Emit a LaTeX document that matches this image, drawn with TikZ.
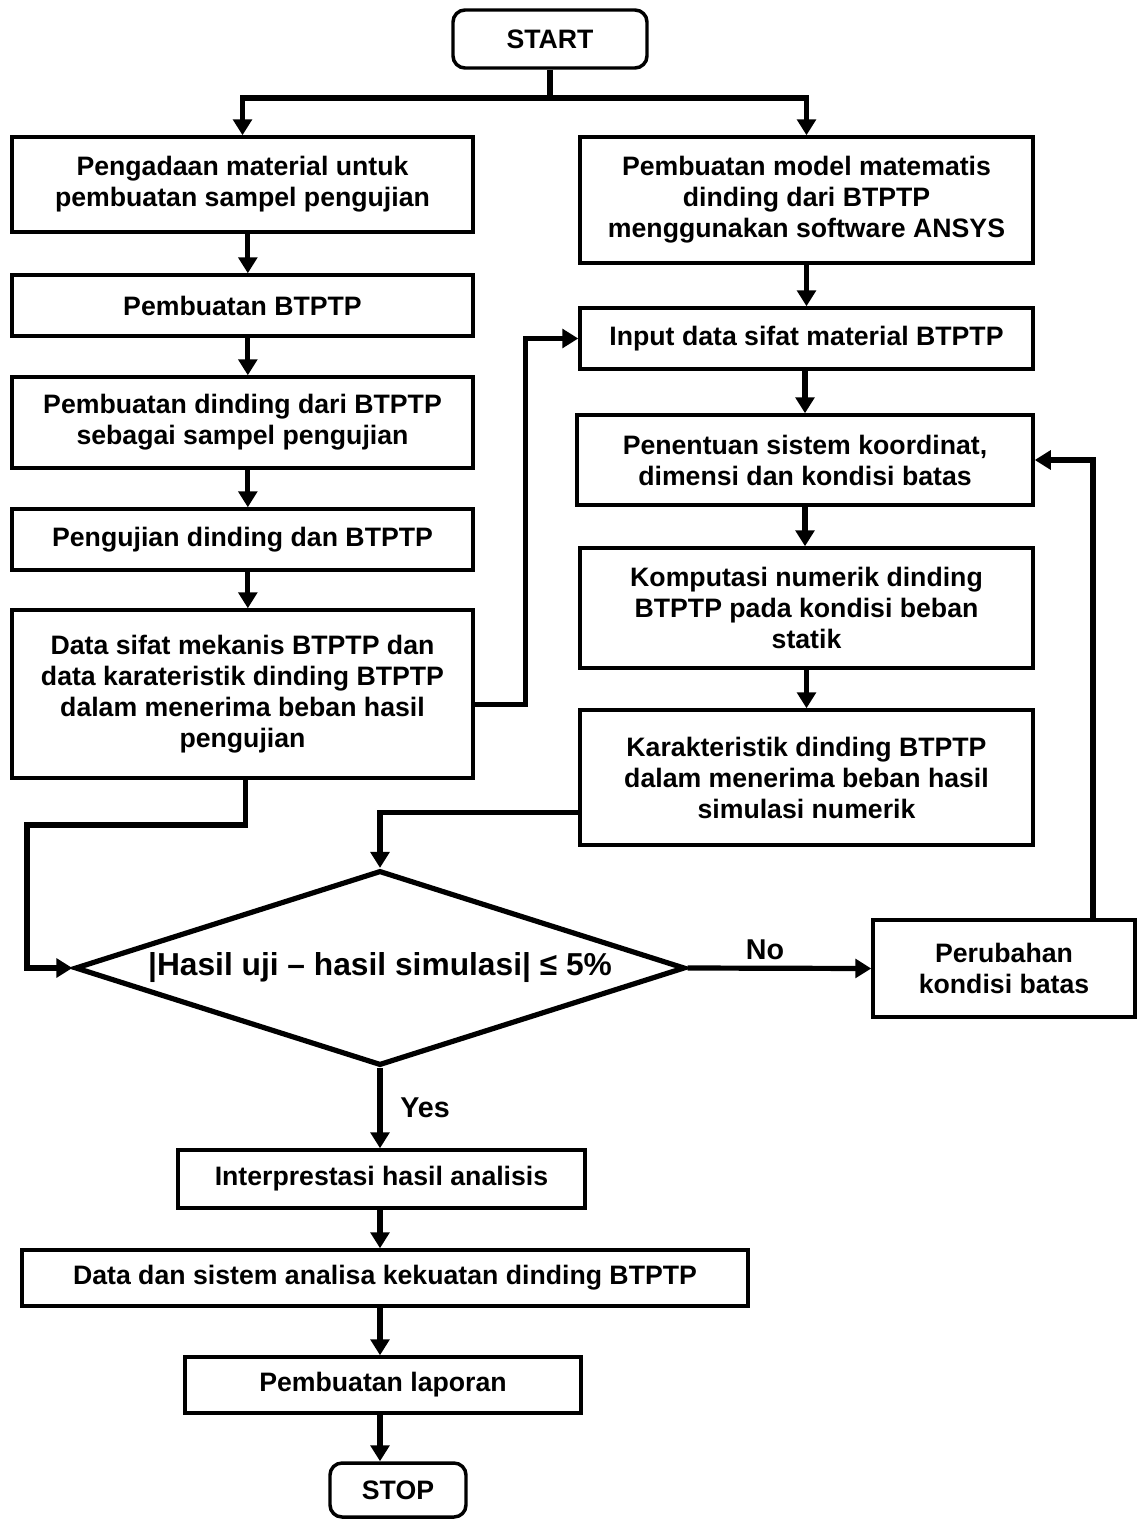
\documentclass[tikz,border=0pt]{standalone}
\usepackage{fontspec}
\setmainfont{Liberation Sans}
\usetikzlibrary{arrows.meta,shapes.geometric,calc}
\begin{document}
\begin{tikzpicture}[x=0.75pt,y=-0.75pt,
  box/.style={draw, line width=2.6pt, align=center, inner sep=0pt,
    font=\bfseries\fontsize{20}{23.25}\selectfont},
  term/.style={box, rounded corners=9pt},
  ln/.style={line width=3.9pt},
  conn/.style={line width=3.9pt, -{Triangle[length=12pt,width=14pt]}},
  lbl/.style={font=\bfseries\fontsize{21.5}{25}\selectfont, inner sep=0pt}]
\useasboundingbox (0,0) rectangle (1138,1519);

\node[term, minimum width=145.5pt, minimum height=43.5pt] (start) at (550,39) {START};

\node[box, minimum width=345.75pt, minimum height=71.25pt] (L1) at (242.5,184.5)
  {Pengadaan material untuk\\pembuatan sampel pengujian};
\node[box, minimum width=345.75pt, minimum height=45.75pt] (L2) at (242.5,305.5)
  {Pembuatan BTPTP};
\node[box, minimum width=345.75pt, minimum height=68.25pt] (L3) at (242.5,422.5)
  {Pembuatan dinding dari BTPTP\\sebagai sampel pengujian};
\node[box, minimum width=345.75pt, minimum height=45.75pt] (L4) at (242.5,539.5)
  {Pengujian dinding dan BTPTP};
\node[box, minimum width=345.75pt, minimum height=126pt] (L5) at (242.5,694)
  {Data sifat mekanis BTPTP dan\\data karateristik dinding BTPTP\\dalam menerima beban hasil\\pengujian};

\node[box, minimum width=339.75pt, minimum height=94.5pt] (R1) at (806.5,200)
  {Pembuatan model matematis\\dinding dari BTPTP\\menggunakan software ANSYS};
\node[box, minimum width=339.75pt, minimum height=45.75pt] (R2) at (806.5,338.5)
  {Input data sifat material BTPTP};
\node[box, minimum width=342pt, minimum height=67.5pt] (R3) at (805,460)
  {Penentuan sistem koordinat,\\dimensi dan kondisi batas};
\node[box, minimum width=339.75pt, minimum height=90pt] (R4) at (806.5,608)
  {Komputasi numerik dinding\\BTPTP pada kondisi beban\\statik};
\node[box, minimum width=339.75pt, minimum height=101.25pt] (R5) at (806.5,777.5)
  {Karakteristik dinding BTPTP\\dalam menerima beban hasil\\simulasi numerik};

\node[diamond, draw, line width=3.9pt, minimum width=457.5pt, minimum height=146.25pt, inner sep=0pt] (dec) at (380,968) {};
\node[font=\bfseries\fontsize{23.8}{27}\selectfont, inner sep=0pt] (dectext) at (380,968) {|Hasil uji – hasil simulasi| ≤ 5\%};

\node[box, minimum width=196.5pt, minimum height=72.75pt] (perub) at (1004,968.5)
  {Perubahan\\kondisi batas};

\node[box, minimum width=305.25pt, minimum height=43.5pt] (interp) at (381.5,1179)
  {Interprestasi hasil analisis};
\node[box, minimum width=544.5pt, minimum height=42pt] (data) at (385,1278)
  {Data dan sistem analisa kekuatan dinding BTPTP};
\node[box, minimum width=297pt, minimum height=42pt] (lap) at (383,1385)
  {Pembuatan laporan};
\node[term, minimum width=102pt, minimum height=40.5pt] (stop) at (398,1490) {STOP};

\node[lbl] (no) at (765,950) {No};
\node[lbl, anchor=west] (yes) at (400,1108) {Yes};

% connectors
\coordinate (split) at (550,98);
\draw[ln] (start.south) -- (split);
\draw[conn] (split) -| (L1.north);
\draw[conn] (split) -| (R1.north);

\draw[conn] ([xshift=4pt]L1.south) -- ([xshift=4pt]L2.north);
\draw[conn] ([xshift=4pt]L2.south) -- ([xshift=4pt]L3.north);
\draw[conn] ([xshift=4pt]L3.south) -- ([xshift=4pt]L4.north);
\draw[conn] ([xshift=4pt]L4.south) -- ([xshift=4pt]L5.north);

\draw[conn] ([yshift=-8pt]L5.east) -- ++(51,0) |- (R2.west);

\coordinate (lc) at (27,825);
\draw[conn] ([xshift=2pt]L5.south) |- (lc) |- (dec.west);

\draw[conn] (R1.south) -- (R2.north);
\draw[conn] ([xshift=-1.1pt]R2.south) -- (R3.south |- R2.south) -- (R3.north);
\draw[conn] (R3.south) -- (R4.north -| R3.south);
\draw[conn] (R4.south) -- (R5.north);

\draw[conn] ([yshift=-26pt]R5.west) -| (dec.north);

\draw[conn] (dec.east) -- (perub.west);
\draw[conn] ([xshift=66.75pt]perub.north) |- (R3.east);

\draw[conn] (dec.south) -- (dec.south |- interp.north);
\draw[conn] (interp.south -| dec.south) -- (dec.south |- data.north);
\draw[conn] (data.south -| dec.south) -- (dec.south |- lap.north);
\draw[conn] (lap.south -| dec.south) -- (dec.south |- stop.north);
\end{tikzpicture}
\end{document}
